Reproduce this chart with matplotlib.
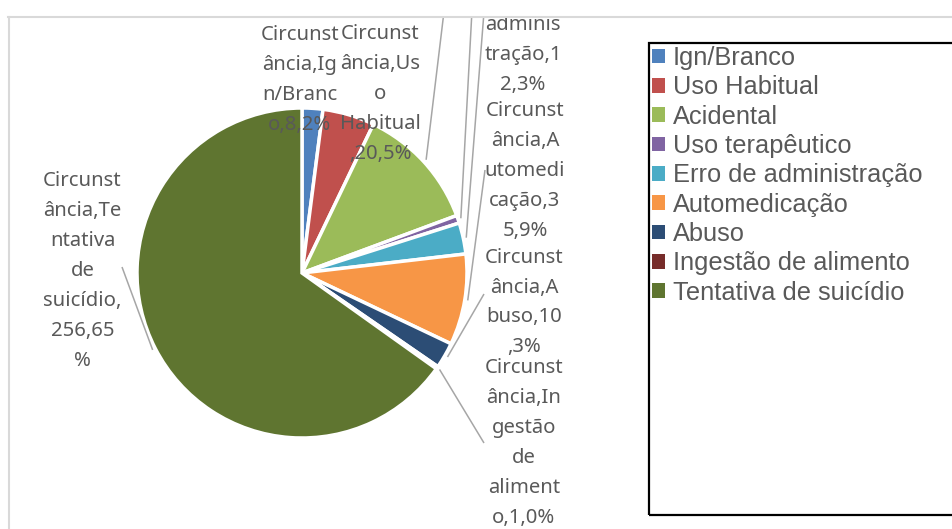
import matplotlib
matplotlib.use('Agg')
import matplotlib.pyplot as plt
from matplotlib.patches import Patch, Rectangle
from matplotlib.lines import Line2D
import numpy as np

# ---------------- data ----------------
categories = ['Ign/Branco', 'Uso Habitual', 'Acidental', 'Uso terapêutico',
              'Erro de administração', 'Automedicação', 'Abuso',
              'Ingestão de alimento', 'Tentativa de suicídio']
values = [8, 20, 48, 3, 12, 35, 10, 1, 256]
percents = [2, 5, 12, 1, 3, 9, 3, 0, 65]
# data labels as wrapped in the reference (None = label lies outside the visible chart area)
label_texts = [
    "Circunst\nância,Ig\nn/Branc\no,8,2%",
    "Circunst\nância,Us\no\nHabitual\n,20,5%",
    None,
    None,
    "Circunst\nância,Err\no de\nadminis\ntração,1\n2,3%",
    "Circunst\nância,A\nutomedi\ncação,3\n5,9%",
    "Circunst\nância,A\nbuso,10\n,3%",
    "Circunst\nância,In\ngestão\nde\naliment\no,1,0%",
    "Circunst\nância,Te\nntativa\nde\nsuicídio,\n256,65\n%",
]
colors = ['#4F81BD', '#C0504D', '#9BBB59', '#8064A2', '#4BACC6',
          '#F79646', '#2C4D75', '#772C2A', '#5F7530']

# ---------------- layout (image pixel coords, y down) ----------------
W, H = 953, 529
label_pos = [(300, 80), (380, 94), None, None, (523, 10),
             (525, 171), (524, 302.5), (524, 443), (82.5, 271)]
leader_end = [None, None, (446, -5), (474, -27), (484, 12),
              (485, 170), (484, 294), (484, 443), (122, 267)]
pie_cx, pie_cy, pie_r = 302, 273, 165

fig = plt.figure(figsize=(W / 100, H / 100), dpi=100)
fig.patch.set_facecolor('white')

top_clip = 17
ax = fig.add_axes([9 / W, 0, (W - 9) / W, (H - top_clip) / H])

def dy(y):
    return H - y

wedges, _ = ax.pie(values, colors=colors, startangle=90, counterclock=False,
                   center=(pie_cx, dy(pie_cy)), radius=pie_r,
                   wedgeprops=dict(edgecolor='white', linewidth=2.5))
ax.set_aspect('auto')
ax.set_xlim(9, W)
ax.set_ylim(0, H - top_clip)
ax.axis('off')

label_font = dict(family=['Noto Sans', 'DejaVu Sans'], size=14.6, color='#595959')
for i, w in enumerate(wedges):
    if label_texts[i] is not None:
        lx, ly = label_pos[i]
        ax.text(lx, dy(ly), label_texts[i], ha='center', va='center',
                multialignment='center', linespacing=1.66, clip_on=True,
                **label_font)
    if leader_end[i] is not None:
        th = np.deg2rad((w.theta1 + w.theta2) / 2)
        sx = w.center[0] + (w.r + 3) * np.cos(th)
        sy = w.center[1] + (w.r + 3) * np.sin(th)
        ex, ey = leader_end[i]
        ax.plot([sx, ex], [sy, dy(ey)], color='#A6A6A6', lw=1.1,
                solid_capstyle='butt', clip_on=True)

# chart frame (light gray)
fig.add_artist(Line2D([8 / W, 1], [1 - top_clip / H, 1 - top_clip / H],
                      transform=fig.transFigure, color='#D9D9D9', lw=1.5))
fig.add_artist(Line2D([9 / W, 9 / W], [0, 1 - top_clip / H],
                      transform=fig.transFigure, color='#D9D9D9', lw=1.5))

# legend box
bx0, by0, bx1, by1 = 649, 43, 960, 515
fig.add_artist(Rectangle((bx0 / W, 1 - by1 / H), (bx1 - bx0) / W, (by1 - by0) / H,
                         transform=fig.transFigure, fill=False,
                         edgecolor='black', lw=1.6))

handles = [Patch(facecolor=c, edgecolor='none') for c in colors]
fig.legend(handles, categories, loc='upper left',
           bbox_to_anchor=(652 / W, 1 - 46 / H), bbox_transform=fig.transFigure,
           frameon=False, borderaxespad=0, borderpad=0,
           handlelength=0.52, handleheight=0.52, handletextpad=0.31,
           labelspacing=0.21, labelcolor='#595959',
           prop=dict(family='Liberation Sans', size=18.3))

fig.savefig('out.png', dpi=100, facecolor='white')
